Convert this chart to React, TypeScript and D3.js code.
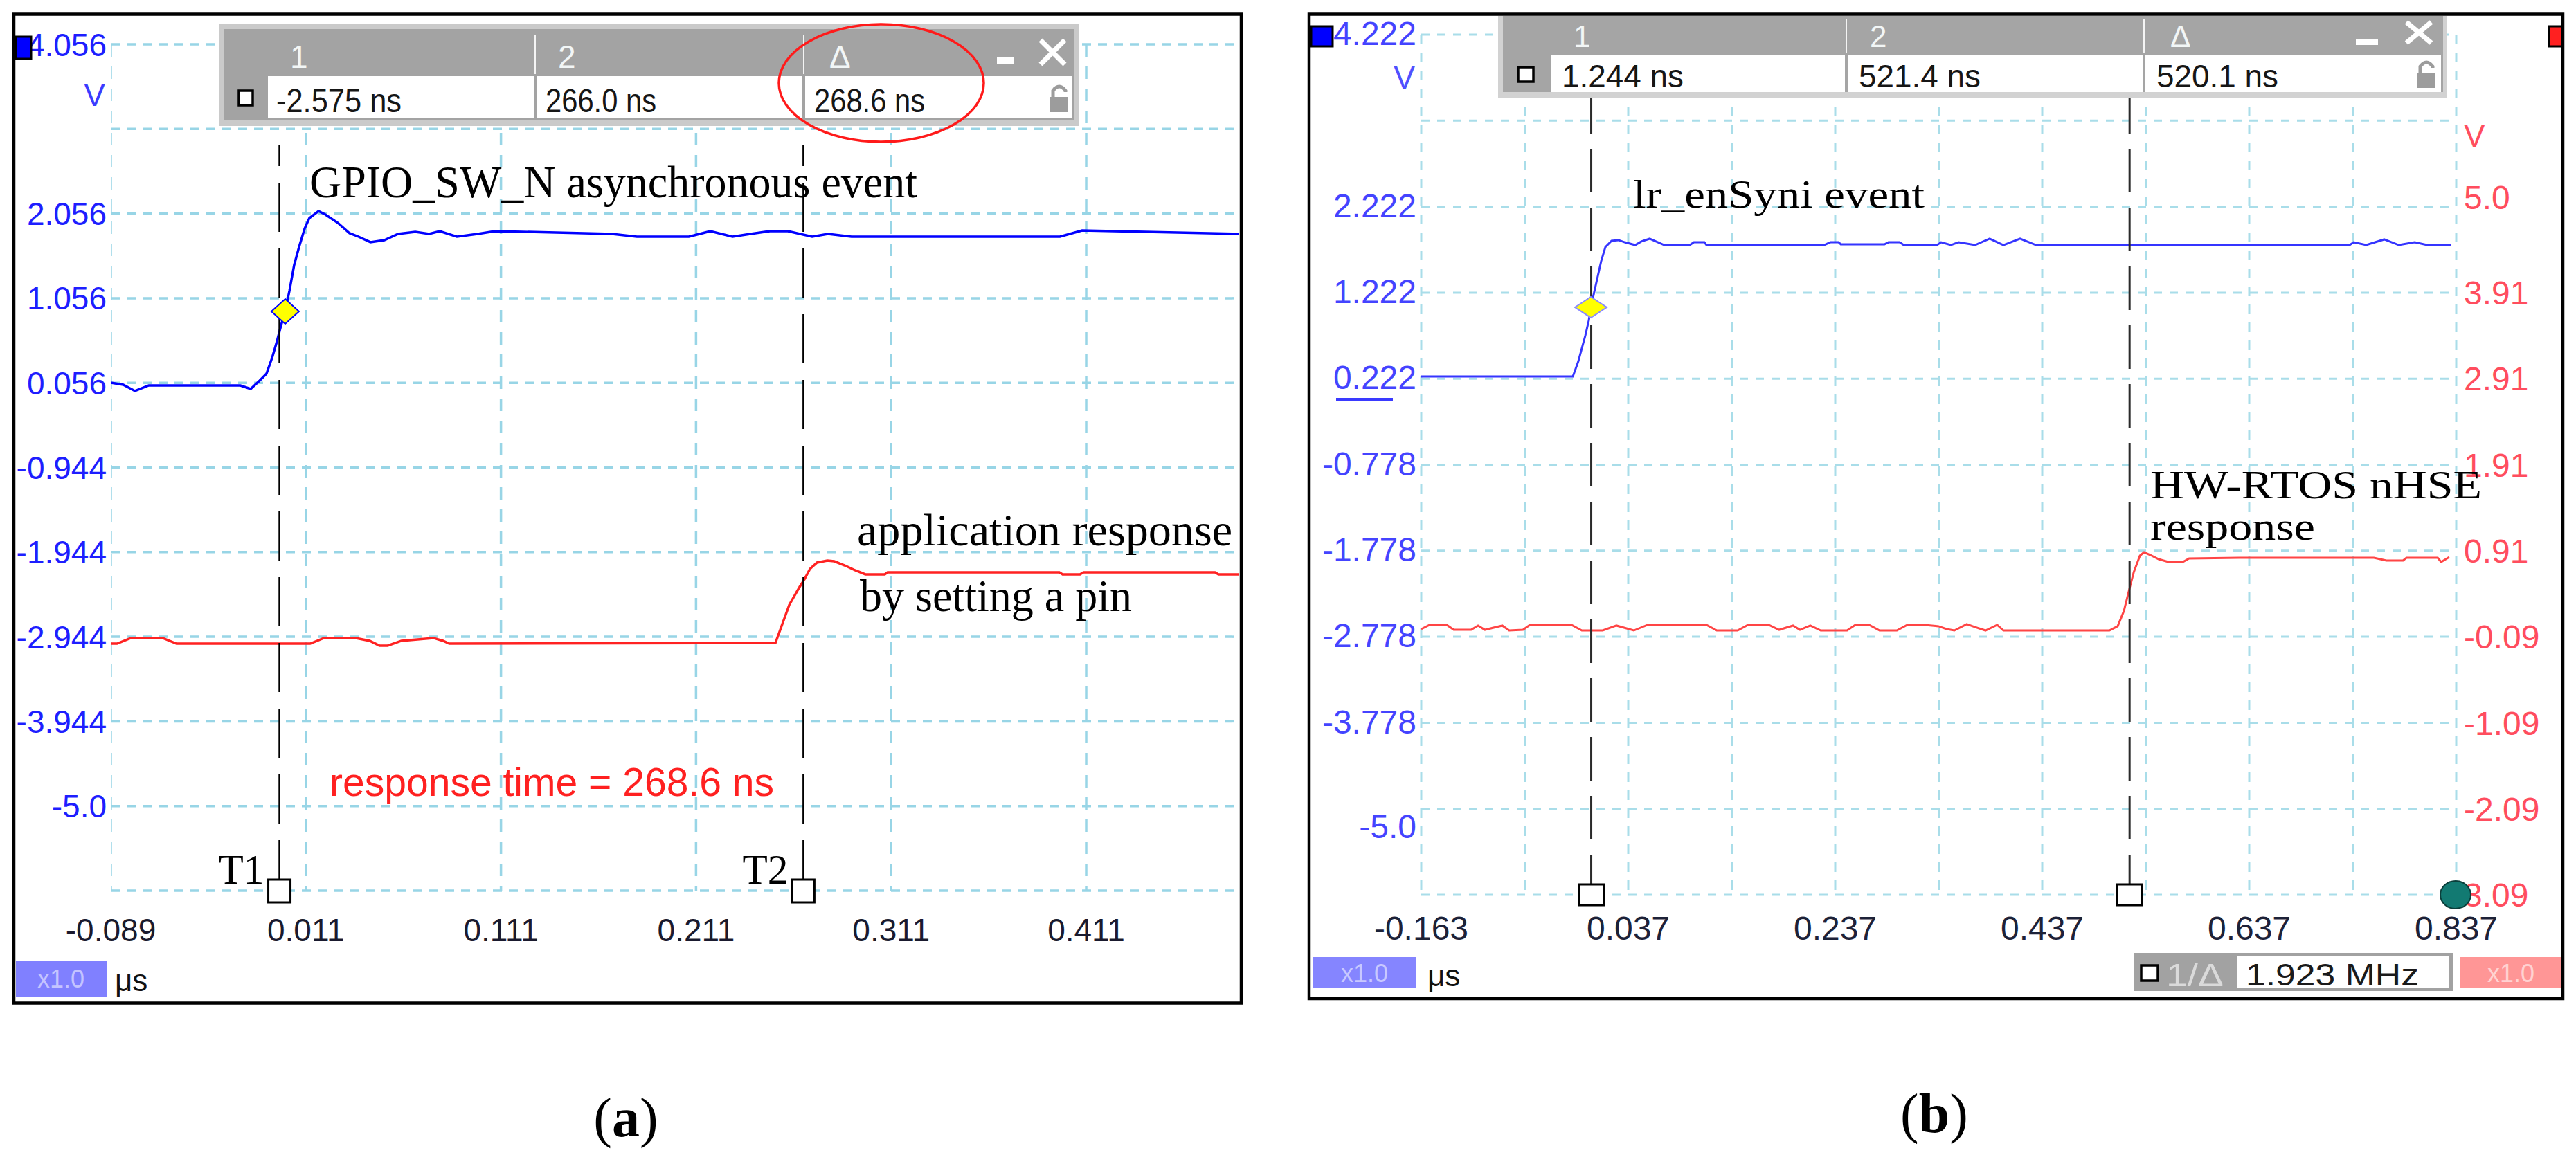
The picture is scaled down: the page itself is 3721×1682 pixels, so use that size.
import React from 'react';
import * as d3 from 'd3';

// ---------- Panel (a) data ----------
const aTimeTicks = [-0.089, 0.011, 0.111, 0.211, 0.311, 0.411];
const aTimeLabels = ['-0.089', '0.011', '0.111', '0.211', '0.311', '0.411'];
const aVoltTicks = [4.056, 2.056, 1.056, 0.056, -0.944, -1.944, -2.944, -3.944, -4.944];
const aVoltLabels = ['4.056', '2.056', '1.056', '0.056', '-0.944', '-1.944', '-2.944', '-3.944', '-5.0'];

const aBlueT = [-0.089, -0.0826, -0.0766, -0.0695, -0.0226, -0.0173, -0.0127, -0.0092, -0.0063, -0.0038, -0.0017, 0.0004, 0.0026, 0.005, 0.0075, 0.0104, 0.0128, 0.0175, 0.021, 0.0274, 0.0334, 0.038, 0.0441, 0.0512, 0.0583, 0.0671, 0.0742, 0.0796, 0.0884, 0.0991, 0.108, 0.1679, 0.1807, 0.2073, 0.2183, 0.2297, 0.2389, 0.2488, 0.2581, 0.2705, 0.2786, 0.2907, 0.3975, 0.4089, 0.4894];
const aBlueV = [0.058, 0.033, -0.04, 0.025, 0.025, -0.016, 0.082, 0.164, 0.352, 0.548, 0.736, 0.9, 1.145, 1.448, 1.66, 1.881, 2.003, 2.085, 2.045, 1.946, 1.824, 1.783, 1.718, 1.742, 1.816, 1.84, 1.816, 1.848, 1.783, 1.816, 1.848, 1.816, 1.783, 1.783, 1.848, 1.783, 1.816, 1.848, 1.848, 1.783, 1.816, 1.783, 1.783, 1.856, 1.816];

const aRedT = [-0.089, -0.0858, -0.0787, -0.0624, -0.0553, 0.0132, 0.0203, 0.0366, 0.0437, 0.0487, 0.0529, 0.06, 0.0764, 0.0813, 0.0845, 0.2517, 0.2588, 0.2641, 0.2666, 0.2694, 0.273, 0.2783, 0.2818, 0.2872, 0.2925, 0.2978, 0.3077, 0.3092, 0.3972, 0.3989, 0.4078, 0.4096, 0.477, 0.4788, 0.4894];
const aRedV = [-3.025, -3.025, -2.959, -2.959, -3.025, -3.025, -2.959, -2.959, -2.992, -3.049, -3.049, -2.992, -2.959, -2.992, -3.025, -3.017, -2.567, -2.354, -2.264, -2.142, -2.068, -2.044, -2.052, -2.101, -2.158, -2.207, -2.207, -2.183, -2.183, -2.207, -2.207, -2.183, -2.183, -2.207, -2.207];

const aCursors = [-0.002575, 0.266];
const aCursorNames = ['T1', 'T2'];
const aDiamond = [0.0004, 0.9];
const aBoxHeaders = ['1', '2', 'Δ'];
const aBoxValues = ['-2.575 ns', '266.0 ns', '268.6 ns'];

// ---------- Panel (b) data ----------
const bTimeTicks = [-0.163, 0.037, 0.237, 0.437, 0.637, 0.837];
const bTimeLabels = ['-0.163', '0.037', '0.237', '0.437', '0.637', '0.837'];
const bVoltTicks = [4.222, 2.222, 1.222, 0.222, -0.778, -1.778, -2.778, -3.778, -4.778];
const bVoltLabels = ['4.222', '2.222', '1.222', '0.222', '-0.778', '-1.778', '-2.778', '-3.778', '-5.0'];
const bRightTicks = [4.91, 3.91, 2.91, 1.91, 0.91, -0.09, -1.09, -2.09, -3.09];
const bRightLabels = ['5.0', '3.91', '2.91', '1.91', '0.91', '-0.09', '-1.09', '-2.09', '3.09'];

const bBlueT = [-0.163, -0.0165, -0.0112, -0.0045, -0.0011, 0.0009, 0.0049, 0.0109, 0.0149, 0.0209, 0.0276, 0.0337, 0.0437, 0.0497, 0.0577, 0.0638, 0.0718, 0.0965, 0.1005, 0.1106, 0.1126, 0.2263, 0.2323, 0.2403, 0.2424, 0.2845, 0.2885, 0.2992, 0.3032, 0.3353, 0.3393, 0.3487, 0.3561, 0.3721, 0.3862, 0.3995, 0.4156, 0.431, 0.734, 0.738, 0.75, 0.7674, 0.7815, 0.7969, 0.8089, 0.8323];
const bBlueV = [0.248, 0.248, 0.425, 0.722, 0.899, 1.052, 1.27, 1.591, 1.752, 1.825, 1.833, 1.808, 1.776, 1.817, 1.849, 1.817, 1.776, 1.776, 1.808, 1.808, 1.776, 1.776, 1.808, 1.808, 1.784, 1.784, 1.808, 1.808, 1.776, 1.776, 1.808, 1.776, 1.808, 1.776, 1.849, 1.776, 1.849, 1.776, 1.776, 1.808, 1.776, 1.841, 1.776, 1.808, 1.776, 1.776];

const bRedT = [-0.163, -0.155, -0.1383, -0.1316, -0.1148, -0.1081, -0.1015, -0.0847, -0.078, -0.0647, -0.058, -0.0178, -0.0078, 0.0123, 0.0256, 0.0424, 0.0557, 0.1126, 0.1226, 0.1427, 0.1527, 0.1728, 0.1828, 0.1962, 0.2029, 0.2129, 0.223, 0.2484, 0.2564, 0.2698, 0.2798, 0.2965, 0.3066, 0.3233, 0.3367, 0.3447, 0.3521, 0.3641, 0.3721, 0.3822, 0.3935, 0.3995, 0.5019, 0.5099, 0.5159, 0.5214, 0.5254, 0.5314, 0.5354, 0.5415, 0.5495, 0.5588, 0.5729, 0.5789, 0.6277, 0.7575, 0.7695, 0.7856, 0.7889, 0.8191, 0.8224, 0.8303];
const bRedV = [-0.001, 0.048, 0.048, -0.009, -0.009, 0.04, -0.009, 0.04, -0.017, -0.009, 0.048, 0.048, -0.017, -0.017, 0.04, -0.017, 0.048, 0.048, -0.017, -0.017, 0.048, 0.048, -0.009, 0.04, -0.009, 0.04, -0.017, -0.017, 0.048, 0.048, -0.017, -0.017, 0.048, 0.048, 0.032, -0.001, -0.017, 0.056, 0.023, -0.017, 0.048, -0.017, -0.017, 0.032, 0.209, 0.474, 0.659, 0.852, 0.892, 0.86, 0.812, 0.78, 0.78, 0.82, 0.828, 0.828, 0.796, 0.796, 0.828, 0.828, 0.78, 0.836];

const bCursors = [0.001244, 0.5214];
const bDiamond = [0.0009, 1.052];
const bBoxHeaders = ['1', '2', 'Δ'];
const bBoxValues = ['1.244 ns', '521.4 ns', '520.1 ns'];

const SANS = '"Liberation Sans", Arial, sans-serif';
const SERIF = '"Liberation Serif", "Times New Roman", serif';

function Lock({ x, y }: { x: number; y: number }) {
  return (
    <g>
      <path d={`M${x + 4},${y + 17} L${x + 4},${y + 8} Q${x + 13},${y - 4} ${x + 22},${y + 8} L${x + 22},${y + 10}`} fill="none" stroke="#9c9c9c" strokeWidth={5} />
      <rect x={x} y={y + 17} width={26} height={22} fill="#9c9c9c" />
    </g>
  );
}

export default function App() {
  // Panel (a) scales
  const xA = d3.scaleLinear().domain([-0.089, 0.411]).range([160, 1569]);
  const yA = d3.scaleLinear().domain([4.056, -5.944]).range([64, 1287]);
  // Panel (b) scales
  const xB = d3.scaleLinear().domain([-0.163, 0.837]).range([2053, 3548]);
  const yB = d3.scaleLinear().domain([4.222, -5.778]).range([50, 1293]);
  const yBr = d3.scaleLinear().domain([6.91, -3.09]).range([50, 1293]);

  const lineA = (T: number[], V: number[]) =>
    d3.line<number>().x((d, i) => xA(T[i])).y((d, i) => yA(V[i]))(T) || '';
  const lineB = (T: number[], V: number[], ys: d3.ScaleLinear<number, number>) =>
    d3.line<number>().x((d, i) => xB(T[i])).y((d, i) => ys(V[i]))(T) || '';

  const aGridV = d3.range(0, 7).map((k) => -0.089 + 0.1 * k);
  const aGridH = d3.range(0, 11).map((k) => 4.056 - k);
  const bGridV = d3.range(0, 11).map((k) => -0.163 + 0.1 * k);
  const bGridH = d3.range(0, 11).map((k) => 4.222 - k);

  const gridA = '#98d5e6';
  const gridB = '#a9dde9';

  const aValX = [399, 788, 1176];
  const aValW = [181, 160, 160];
  const aHdrX = [419, 806, 1198];
  const bValX = [2256, 2685, 3115];
  const bHdrX = [2273, 2701, 3135];

  return (
    <svg width={3721} height={1682} style={{ position: 'absolute', left: 0, top: 0, background: '#fff' }}>
      <defs>
        <clipPath id="clipA">
          <rect x={160} y={40} width={1630} height={1300} />
        </clipPath>
      </defs>
      <rect x={0} y={0} width={3721} height={1682} fill="#fff" />

      {/* ================= Panel (a) ================= */}
      <g clipPath="url(#clipA)">
        {aGridH.map((v, i) => (
          <line key={'ah' + i} x1={160} x2={1790} y1={yA(v)} y2={yA(v)} stroke={gridA} strokeWidth={3.5} strokeDasharray="13 10" />
        ))}
        {aGridV.map((t, i) => (
          <line key={'av' + i} x1={xA(t)} x2={xA(t)} y1={64} y2={1287} stroke={gridA} strokeWidth={3.5} strokeDasharray="18 14" />
        ))}
        <path d={lineA(aRedT, aRedV)} fill="none" stroke="#ff2222" strokeWidth={3.5} />
        <path d={lineA(aBlueT, aBlueV)} fill="none" stroke="#0000ff" strokeWidth={3.5} />
      </g>

      {/* cursors (a) */}
      {aCursors.map((t, i) => (
        <g key={'ac' + i}>
          <line x1={xA(t)} x2={xA(t)} y1={209} y2={1271} stroke="#000" strokeWidth={2.5} strokeDasharray="71 24" strokeDashoffset={40} />
          <rect x={xA(t) - 16} y={1271} width={32} height={33} fill="#fff" stroke="#000" strokeWidth={3} />
          <text x={xA(t) - 88} y={1277} fontFamily={SERIF} fontSize={62} fill="#000" textLength={66} lengthAdjust="spacingAndGlyphs">{aCursorNames[i]}</text>
        </g>
      ))}
      <path
        d={`M${xA(aDiamond[0])},${yA(aDiamond[1]) - 18} L${xA(aDiamond[0]) + 20},${yA(aDiamond[1])} L${xA(aDiamond[0])},${yA(aDiamond[1]) + 18} L${xA(aDiamond[0]) - 20},${yA(aDiamond[1])} Z`}
        fill="#ffff00" stroke="#0000ff" strokeWidth={2}
      />

      {/* y labels (a) */}
      {aVoltTicks.map((v, i) => (
        <text key={'ayl' + i} x={154} y={yA(v)} dy="0.36em" textAnchor="end" fontFamily={SANS} fontSize={46} fill="#1e1eff">{aVoltLabels[i]}</text>
      ))}
      <text x={152} y={153} textAnchor="end" fontFamily={SANS} fontSize={46} fill="#3b3bff">V</text>
      <rect x={23} y={53} width={22} height={32} fill="#0000ff" stroke="#000" strokeWidth={3} />

      {/* x labels (a) */}
      {aTimeTicks.map((t, i) => (
        <text key={'axl' + i} x={xA(t)} y={1360} textAnchor="middle" fontFamily={SANS} fontSize={46} fill="#1a1a2e">{aTimeLabels[i]}</text>
      ))}
      <rect x={23} y={1388} width={131} height={52} fill="#8080ff" />
      <text x={88} y={1427} textAnchor="middle" fontFamily={SANS} fontSize={36} fill="#c4c4ff">x1.0</text>
      <text x={166} y={1432} fontFamily={SANS} fontSize={44} fill="#111">μs</text>

      {/* annotations (a) */}
      <text x={447} y={285} fontFamily={SERIF} fontSize={65} fill="#000" textLength={878} lengthAdjust="spacingAndGlyphs">GPIO_SW_N asynchronous event</text>
      <text x={1238} y={788} fontFamily={SERIF} fontSize={66} fill="#000" textLength={542} lengthAdjust="spacingAndGlyphs">application response</text>
      <text x={1242} y={883} fontFamily={SERIF} fontSize={66} fill="#000" textLength={393} lengthAdjust="spacingAndGlyphs">by setting a pin</text>
      <text x={476} y={1150} fontFamily={SANS} fontSize={57} fill="#ff2020" textLength={642} lengthAdjust="spacingAndGlyphs">response time = 268.6 ns</text>

      {/* measurement box (a) */}
      <rect x={317} y={35} width={1241} height={147} fill="#cacaca" />
      <rect x={324} y={42} width={1227} height={131} fill="#a3a3a3" />
      <line x1={773} x2={773} y1={50} y2={107} stroke="#f4f4f4" strokeWidth={2} />
      <line x1={1161} x2={1161} y1={50} y2={107} stroke="#f4f4f4" strokeWidth={2} />
      <rect x={387} y={110} width={384} height={60} fill="#fff" />
      <rect x={775} y={110} width={384} height={60} fill="#fff" />
      <rect x={1163} y={110} width={386} height={60} fill="#fff" />
      <rect x={345} y={131} width={20} height={21} fill="#fff" stroke="#000" strokeWidth={3.5} />
      {aBoxHeaders.map((h, i) => (
        <text key={'ah' + i} x={aHdrX[i]} y={98} fontFamily={SANS} fontSize={46} fill="#f2f6f6">{h}</text>
      ))}
      {aBoxValues.map((v, i) => (
        <text key={'avl' + i} x={aValX[i]} y={162} fontFamily={SANS} fontSize={48} fill="#161616" textLength={aValW[i]} lengthAdjust="spacingAndGlyphs">{v}</text>
      ))}
      <rect x={1440} y={83} width={25} height={10} fill="#fff" />
      <line x1={1503} y1={58} x2={1538} y2={93} stroke="#fff" strokeWidth={7} />
      <line x1={1538} y1={58} x2={1503} y2={93} stroke="#fff" strokeWidth={7} />
      <Lock x={1517} y={123} />
      <ellipse cx={1273} cy={120} rx={148} ry={85} fill="none" stroke="#ff1a1a" strokeWidth={3.5} />

      <rect x={20} y={20.5} width={1773} height={1429} fill="none" stroke="#000" strokeWidth={4.5} />

      {/* ================= Panel (b) ================= */}
      {bGridH.map((v, i) => (
        <line key={'bh' + i} x1={2053} x2={3548} y1={yB(v)} y2={yB(v)} stroke={gridB} strokeWidth={3} strokeDasharray="12 11" />
      ))}
      {bGridV.map((t, i) => (
        <line key={'bv' + i} x1={xB(t)} x2={xB(t)} y1={50} y2={1293} stroke={gridB} strokeWidth={3} strokeDasharray="14 12" />
      ))}
      <path d={lineB(bRedT, bRedV, yBr)} fill="none" stroke="#ff4545" strokeWidth={3} />
      <path d={lineB(bBlueT, bBlueV, yB)} fill="none" stroke="#3535ff" strokeWidth={3} />

      {bCursors.map((t, i) => (
        <g key={'bc' + i}>
          <line x1={xB(t)} x2={xB(t)} y1={142} y2={1278} stroke="#2a2a2a" strokeWidth={3} strokeDasharray="63 22" strokeDashoffset={12} />
          <rect x={xB(t) - 18} y={1278} width={36} height={30} fill="#fff" stroke="#000" strokeWidth={3} />
        </g>
      ))}
      <path
        d={`M${xB(bDiamond[0])},${yB(bDiamond[1]) - 15} L${xB(bDiamond[0]) + 23},${yB(bDiamond[1])} L${xB(bDiamond[0])},${yB(bDiamond[1]) + 15} L${xB(bDiamond[0]) - 23},${yB(bDiamond[1])} Z`}
        fill="#ffff00" stroke="#8a8aff" strokeWidth={2}
      />

      {/* y labels (b) */}
      {bVoltTicks.map((v, i) => (
        <text key={'byl' + i} x={2046} y={yB(v) + (bVoltLabels[i] === '-5.0' ? 25 : -2)} dy="0.36em" textAnchor="end" fontFamily={SANS} fontSize={48} fill="#4444ff">{bVoltLabels[i]}</text>
      ))}
      <line x1={1930} x2={2012} y1={577} y2={577} stroke="#3a3aff" strokeWidth={4} />
      <text x={2044} y={128} textAnchor="end" fontFamily={SANS} fontSize={46} fill="#5050ff">V</text>
      <rect x={1894} y={38} width={31} height={29} fill="#0000ff" stroke="#000" strokeWidth={3} />
      {bRightTicks.map((v, i) => (
        <text key={'byr' + i} x={3559} y={yBr(v) + (i === 0 ? -14 : 0)} dy="0.36em" fontFamily={SANS} fontSize={48} fill="#ff4d5e">{bRightLabels[i]}</text>
      ))}
      <text x={3559} y={212} fontFamily={SANS} fontSize={46} fill="#ff4d5e">V</text>
      <rect x={3682} y={38} width={20} height={29} fill="#ff2020" stroke="#000" strokeWidth={3} />
      <ellipse cx={3547} cy={1293} rx={22} ry={20} fill="#127a72" stroke="#0b3f3b" strokeWidth={2} />

      {/* x labels (b) */}
      {bTimeTicks.map((t, i) => (
        <text key={'bxl' + i} x={xB(t)} y={1358} textAnchor="middle" fontFamily={SANS} fontSize={48} fill="#1d2238">{bTimeLabels[i]}</text>
      ))}
      <rect x={1897} y={1383} width={148} height={45} fill="#8585ff" />
      <text x={1971} y={1419} textAnchor="middle" fontFamily={SANS} fontSize={36} fill="#c8c8ff">x1.0</text>
      <text x={2062} y={1425} fontFamily={SANS} fontSize={44} fill="#111">μs</text>
      <rect x={3083} y={1377} width={461} height={55} fill="#a2a2a2" />
      <rect x={3232} y={1382} width={306} height={45} fill="#fff" />
      <rect x={3093} y={1395} width={24} height={22} fill="#fff" stroke="#000" strokeWidth={3.5} />
      <text x={3129} y={1425} fontFamily={SANS} fontSize={46} fill="#dadada" textLength={83} lengthAdjust="spacingAndGlyphs">1/Δ</text>
      <text x={3244} y={1424} fontFamily={SANS} fontSize={44} fill="#1a1a1a" textLength={250} lengthAdjust="spacingAndGlyphs">1.923 MHz</text>
      <rect x={3553} y={1383} width={148} height={45} fill="#ff9696" />
      <text x={3627} y={1419} textAnchor="middle" fontFamily={SANS} fontSize={36} fill="#ffd2d2">x1.0</text>

      {/* annotations (b) */}
      <text x={2359} y={300} fontFamily={SERIF} fontSize={58} fill="#000" textLength={421} lengthAdjust="spacingAndGlyphs">lr_enSyni event</text>
      <text x={3106} y={720} fontFamily={SERIF} fontSize={56} fill="#000" textLength={479} lengthAdjust="spacingAndGlyphs">HW-RTOS nHSE</text>
      <text x={3106} y={780} fontFamily={SERIF} fontSize={56} fill="#000" textLength={238} lengthAdjust="spacingAndGlyphs">response</text>

      {/* measurement box (b) */}
      <rect x={2164} y={23} width={1371} height={119} fill="#d2d2d2" />
      <rect x={2171} y={23} width={1358} height={110} fill="#a5a5a5" />
      <line x1={2667} x2={2667} y1={28} y2={76} stroke="#f4f4f4" strokeWidth={2} />
      <line x1={3097} x2={3097} y1={28} y2={76} stroke="#f4f4f4" strokeWidth={2} />
      <rect x={2241} y={79} width={424} height={54} fill="#fff" />
      <rect x={2669} y={79} width={426} height={54} fill="#fff" />
      <rect x={3099} y={79} width={427} height={54} fill="#fff" />
      <rect x={2193} y={97} width={22} height={21} fill="#fff" stroke="#000" strokeWidth={3.5} />
      {bBoxHeaders.map((h, i) => (
        <text key={'bh' + i} x={bHdrX[i]} y={68} fontFamily={SANS} fontSize={44} fill="#f2f6f6">{h}</text>
      ))}
      {bBoxValues.map((v, i) => (
        <text key={'bvl' + i} x={bValX[i]} y={126} fontFamily={SANS} fontSize={46} fill="#161616" textLength={176} lengthAdjust="spacingAndGlyphs">{v}</text>
      ))}
      <rect x={3403} y={57} width={32} height={8} fill="#fff" />
      <line x1={3476} y1={32} x2={3512} y2={62} stroke="#fff" strokeWidth={7} />
      <line x1={3512} y1={32} x2={3476} y2={62} stroke="#fff" strokeWidth={7} />
      <Lock x={3492} y={88} />

      <rect x={1891} y={20.5} width={1811} height={1422.5} fill="none" stroke="#000" strokeWidth={4.5} />

      {/* captions */}
      <text x={904} y={1642} textAnchor="middle" fontFamily={SERIF} fontSize={80} fill="#000">(<tspan fontWeight="bold">a</tspan>)</text>
      <text x={2794} y={1636} textAnchor="middle" fontFamily={SERIF} fontSize={80} fill="#000">(<tspan fontWeight="bold">b</tspan>)</text>
    </svg>
  );
}
